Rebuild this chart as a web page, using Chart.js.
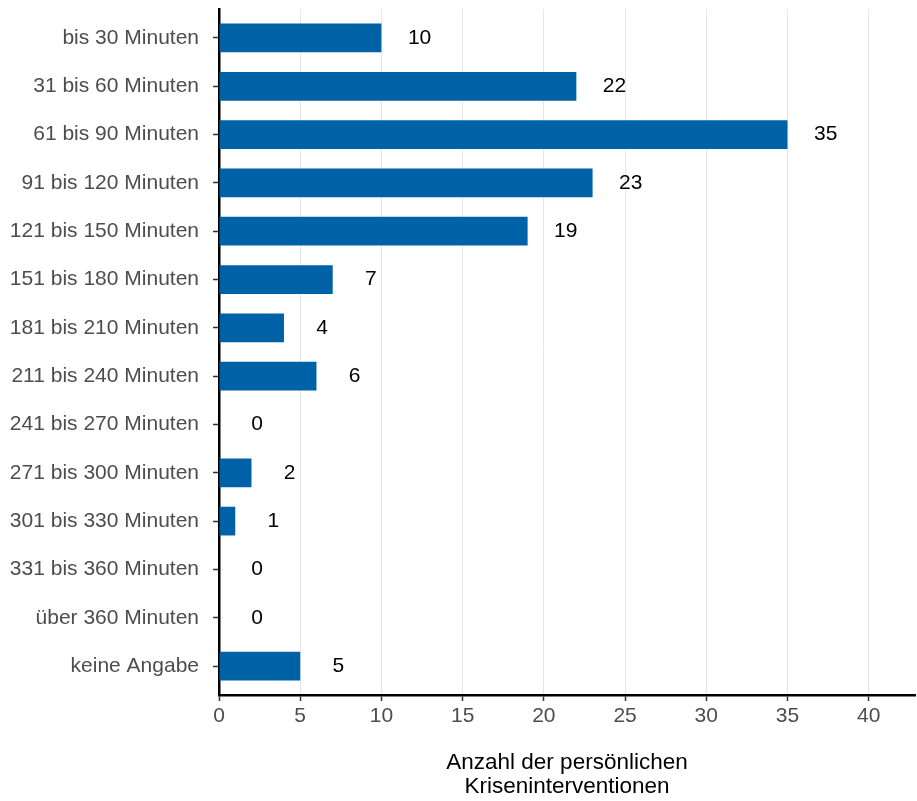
<!DOCTYPE html>
<html>
<head>
<meta charset="utf-8">
<script src="https://cdn.jsdelivr.net/npm/chart.js@4/dist/chart.umd.min.js"></script>
<style>
  html, body { margin: 0; padding: 0; background: #fff; }
  #wrap { width: 917px; height: 801px; }
</style>
</head>
<body>
<div id="wrap"><canvas id="myChart" width="917" height="801"></canvas></div>
<script>
    // Daten: Dauer der persönlichen Krisenintervention
    var categories = [
        'bis 30 Minuten', '31 bis 60 Minuten', '61 bis 90 Minuten', '91 bis 120 Minuten',
        '121 bis 150 Minuten', '151 bis 180 Minuten', '181 bis 210 Minuten', '211 bis 240 Minuten',
        '241 bis 270 Minuten', '271 bis 300 Minuten', '301 bis 330 Minuten', '331 bis 360 Minuten',
        'über 360 Minuten', 'keine Angabe'
    ];
    var values = [10, 22, 35, 23, 19, 7, 4, 6, 0, 2, 1, 0, 0, 5];
    var xTicks = [0, 5, 10, 15, 20, 25, 30, 35, 40];
    var xTitle = ['Anzahl der persönlichen', 'Kriseninterventionen'];

    Chart.defaults.font.family = "'Liberation Sans', Arial, sans-serif";
    Chart.defaults.animation = false;

    // Zahlen rechts neben den Balken
    var valueLabels = {
        id: 'valueLabels',
        afterDatasetsDraw(chart) {
            var ctx = chart.ctx;
            var xs = chart.scales.x, ys = chart.scales.y;
            ctx.save();
            ctx.fillStyle = '#000';
            ctx.font = "21px 'Liberation Sans', Arial, sans-serif";
            ctx.textAlign = 'center';
            ctx.textBaseline = 'middle';
            values.forEach(function (v, i) {
                ctx.fillText(String(v), xs.getPixelForValue(v + 2.35), ys.getPixelForValue(i));
            });
            ctx.restore();
        }
    };

    var ctx = document.getElementById('myChart').getContext('2d');
    var myChart = new Chart(ctx, {
        type: 'bar',
        data: {
            datasets: [{
                data: values.map(function (v, i) { return { x: v, y: i }; }),
                backgroundColor: '#0062a6',
                borderWidth: 0,
                barPercentage: 0.595,
                categoryPercentage: 1
            }]
        },
        options: {
            indexAxis: 'y',
            responsive: false,
            layout: { padding: { top: 9, right: 2, left: 0, bottom: 0 } },
            plugins: { legend: { display: false }, tooltip: { enabled: false } },
            scales: {
                x: {
                    type: 'linear',
                    min: 0,
                    max: 42.85,
                    afterBuildTicks: function (scale) {
                        scale.ticks = xTicks.map(function (t) { return { value: t }; });
                    },
                    afterFit: function (scale) {
                        scale.height = 106;
                        scale.paddingLeft = 0;
                        scale.paddingRight = 0;
                    },
                    grid: {
                        color: '#e6e6e6',
                        lineWidth: 1,
                        tickColor: '#333',
                        tickWidth: 1.5,
                        tickLength: 6
                    },
                    border: { display: true, color: '#000', width: 2.5 },
                    ticks: { color: '#4d4d4d', font: { size: 21 }, padding: 3 },
                    title: {
                        display: true,
                        text: xTitle,
                        color: '#000',
                        font: { size: 22.5, lineHeight: 1.067 },
                        padding: { top: 0, bottom: 2 }
                    }
                },
                y: {
                    type: 'linear',
                    reverse: true,
                    offset: false,
                    min: -0.6,
                    max: categories.length - 0.4,
                    afterBuildTicks: function (scale) {
                        scale.ticks = categories.map(function (c, i) { return { value: i }; });
                    },
                    afterFit: function (scale) {
                        scale.width = 219;
                        scale.paddingTop = 0;
                        scale.paddingBottom = 0;
                    },
                    grid: {
                        offset: false,
                        drawOnChartArea: false,
                        tickColor: '#333',
                        tickWidth: 1.5,
                        tickLength: 6
                    },
                    border: { display: true, color: '#000', width: 2.5 },
                    ticks: {
                        color: '#4d4d4d',
                        font: { size: 21 },
                        padding: 14,
                        callback: function (v) { return categories[v]; }
                    }
                }
            }
        },
        plugins: [valueLabels]
    });
</script>
</body>
</html>
